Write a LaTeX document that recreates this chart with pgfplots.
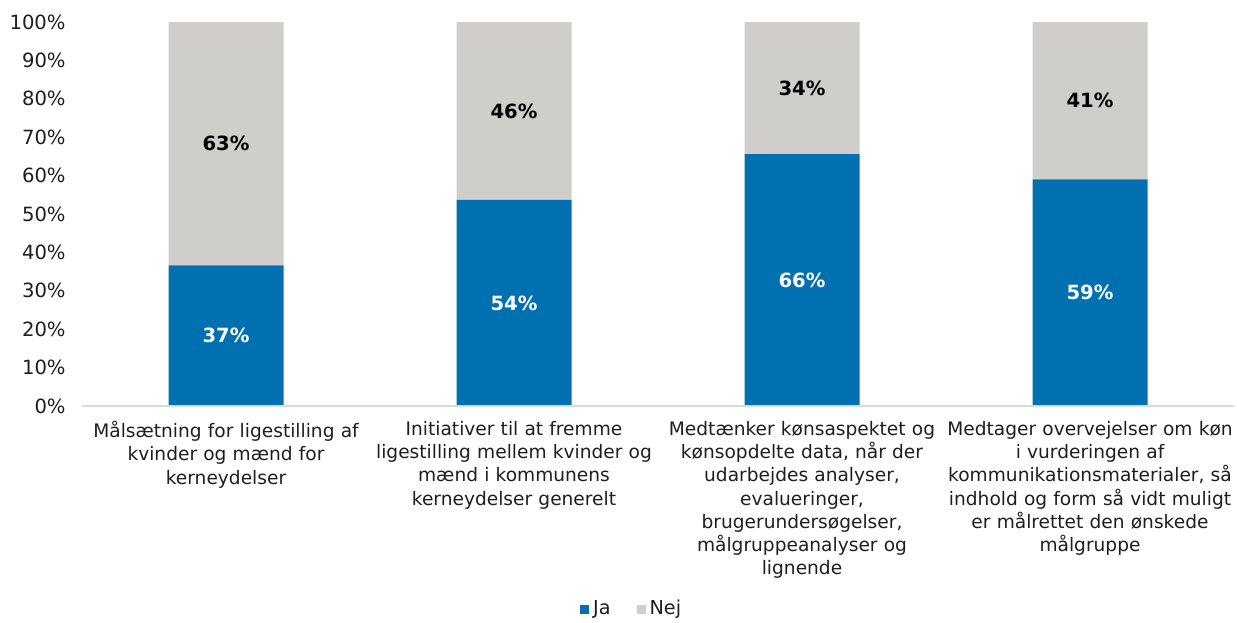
\documentclass[border=0pt]{standalone}
\usepackage{pgfplots}
\pgfplotsset{compat=1.18}
\usepackage{fontspec}
\setmainfont{DejaVu Sans}
\definecolor{ja}{RGB}{0,112,176}
\definecolor{nej}{RGB}{208,206,202}
\definecolor{txt}{RGB}{30,30,30}
\begin{document}
\begin{tikzpicture}[font=\fontsize{9.8}{11.6}\selectfont, text=txt]
\begin{axis}[
  ybar stacked,
  scale only axis,
  width=576pt, height=192pt,
  bar width=57.5pt,
  xmin=-0.5, xmax=3.5,
  ymin=0, ymax=100,
  xtick={0,1,2,3},
  xticklabels={
    {Målsætning for ligestilling af\\kvinder og mænd for\\kerneydelser},
    {Initiativer til at fremme\\ligestilling mellem kvinder og\\mænd i kommunens\\kerneydelser generelt},
    {Medtænker kønsaspektet og\\kønsopdelte data, når der\\udarbejdes analyser,\\evalueringer,\\brugerundersøgelser,\\målgruppeanalyser og\\lignende},
    {Medtager overvejelser om køn\\i vurderingen af\\kommunikationsmaterialer, så\\indhold og form så vidt muligt\\er målrettet den ønskede\\målgruppe}
  },
  ytick={0,10,...,100},
  yticklabel={\pgfmathprintnumber{\tick}\%},
  /pgf/number format/assume math mode=true,
  major tick length=0pt,
  axis line style={draw=none},
  yticklabel style={inner sep=0pt, xshift=-8pt},
  xticklabel style={font=\fontsize{9.3}{11.6}\selectfont, text width=175pt, align=center,
    anchor=north, inner sep=0pt, yshift=-7.5pt},
  legend columns=2,
  legend style={draw=none, fill=none, at={(0.478,0)}, anchor=center, yshift=-101.5pt,
    font=\fontsize{9.6}{11.6}\selectfont,
    /tikz/every even column/.append style={column sep=11pt}},
  legend image code/.code={\fill[#1] (0pt,-2.25pt) rectangle (4.5pt,2.25pt);},
  nodes near coords={\pgfmathprintnumber[fixed,precision=0]{\pgfplotspointmeta}\%},
  every node near coord/.append style={font=\fontsize{9.8}{12}\selectfont\bfseries,
    anchor=center},
]
\draw[black!15, line width=0.8pt] (rel axis cs:0,0) -- (rel axis cs:1,0);
\addplot[fill=ja, draw=none, nodes near coords style={text=white}]
  coordinates {(0,36.6) (1,53.7) (2,65.6) (3,59.0)};
\addplot[fill=nej, draw=none, nodes near coords style={text=black}]
  coordinates {(0,63.4) (1,46.3) (2,34.4) (3,41.0)};
\legend{Ja,Nej}
\end{axis}
\pgfresetboundingbox
\path ([shift={(-41pt,-108pt)}]current axis.south west) rectangle ([shift={(1.5pt,11pt)}]current axis.north east);
\end{tikzpicture}
\end{document}
